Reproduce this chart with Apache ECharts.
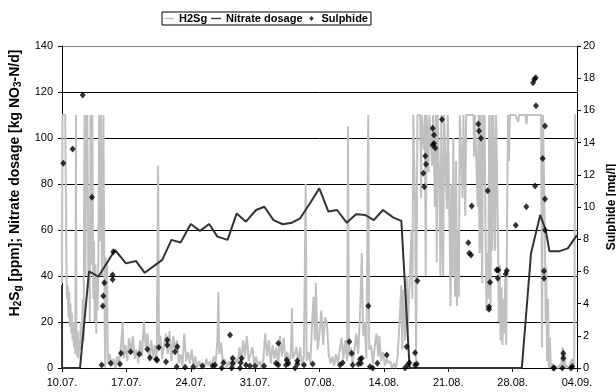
<!DOCTYPE html>
<html>
<head>
<meta charset="utf-8">
<script src="https://cdn.jsdelivr.net/npm/echarts@6/dist/echarts.min.js"></script>
<style>
  html, body { margin: 0; padding: 0; background: #fff; }
  #chart { width: 616px; height: 392px; }
</style>
</head>
<body>
<div id="chart"></div>
<script>
// x values are days counted from 10.07.
const xLabels = ['10.07.', '17.07.', '24.07.', '31.07.', '07.08.', '14.08.', '21.08.', '28.08.', '04.09.']

// H2S gas [ppm]
const h2sData = [
  [0, 37], [0.05, 110], [0.15, 110], [0.25, 110], [0.35, 110], [0.45, 110], [0.5, 37], [0.55, 30], [0.62, 36], [0.7, 22],
  [0.78, 33], [0.85, 18], [0.92, 28], [1.0, 15], [1.08, 24], [1.15, 12], [1.22, 20], [1.3, 9], [1.38, 18], [1.45, 6],
  [1.52, 110], [1.56, 14], [1.65, 5], [1.72, 16], [1.8, 4], [1.88, 12], [1.95, 8], [2.05, 20], [2.15, 10], [2.25, 30],
  [2.35, 12], [2.45, 110], [2.5, 110], [2.55, 40], [2.62, 110], [2.68, 70], [2.75, 110], [2.82, 110], [2.88, 35], [2.95, 60],
  [3.02, 20], [3.1, 110], [3.15, 110], [3.22, 45], [3.3, 110], [3.35, 110], [3.4, 30], [3.48, 55], [3.56, 20], [3.64, 45],
  [3.72, 15], [3.8, 40], [3.88, 25], [3.96, 50], [4.04, 110], [4.1, 110], [4.16, 55], [4.22, 110], [4.28, 110], [4.34, 40],
  [4.42, 65], [4.5, 110], [4.58, 110], [4.64, 20], [4.7, 0], [4.76, 48], [4.84, 25], [4.9, 45], [4.96, 10], [5.0, 2],
  [5.2, 6], [5.4, 1], [5.6, 4], [5.8, 0], [6.0, 5], [6.2, 2], [6.4, 9], [6.6, 20], [6.7, 4], [6.9, 10],
  [7.1, 3], [7.3, 13], [7.5, 6], [7.7, 14], [7.9, 4], [8.1, 8], [8.3, 2], [8.5, 12], [8.7, 5], [8.9, 20],
  [9.1, 9], [9.3, 15], [9.5, 3], [9.7, 12], [9.9, 5], [10.1, 10], [10.3, 2], [10.45, 88], [10.55, 8], [10.7, 14],
  [10.9, 4], [11.1, 10], [11.3, 15], [11.5, 6], [11.7, 16], [11.9, 3], [12.1, 14], [12.3, 8], [12.5, 12], [12.7, 2],
  [12.9, 6], [13.1, 1], [13.3, 15], [13.5, 3], [13.7, 7], [13.9, 2], [14.1, 8], [14.3, 1], [14.5, 5], [14.7, 0],
  [14.9, 3], [15.1, 1], [15.3, 2], [15.5, 0], [15.7, 4], [15.9, 1], [16.1, 3], [16.3, 0], [16.5, 5], [16.7, 2],
  [16.9, 12], [17.0, 33], [17.1, 6], [17.3, 11], [17.5, 2], [17.7, 4], [17.9, 0], [18.1, 3], [18.3, 1], [18.5, 5],
  [18.7, 0], [18.9, 4], [19.1, 2], [19.3, 9], [19.5, 3], [19.7, 12], [19.9, 5], [20.1, 14], [20.3, 3], [20.5, 6],
  [20.7, 9], [20.9, 2], [21.1, 5], [21.3, 1], [21.5, 3], [21.7, 0], [21.9, 4], [22.1, 15], [22.3, 5], [22.5, 12],
  [22.7, 2], [22.9, 10], [23.1, 4], [23.3, 9], [23.5, 1], [23.7, 14], [23.9, 5], [24.1, 13], [24.3, 3], [24.5, 7],
  [24.7, 1], [24.9, 8], [25.0, 26], [25.1, 4], [25.3, 6], [25.5, 9], [25.7, 2], [25.9, 9], [26.1, 1], [26.3, 5],
  [26.5, 80], [26.6, 3], [26.8, 7], [27.0, 2], [27.2, 20], [27.35, 31], [27.5, 12], [27.6, 37], [27.8, 8], [28.0, 15],
  [28.2, 25], [28.4, 10], [28.6, 22], [28.8, 20], [29.0, 6], [29.2, 2], [29.4, 5], [29.6, 1], [29.8, 6], [30.0, 2],
  [30.2, 8], [30.4, 13], [30.6, 4], [30.8, 12], [31.0, 3], [31.1, 105], [31.2, 5], [31.4, 9], [31.6, 2], [31.8, 8],
  [32.0, 15], [32.2, 6], [32.4, 22], [32.6, 50], [32.75, 14], [32.9, 20], [33.1, 4], [33.3, 110], [33.4, 8], [33.6, 10],
  [33.8, 2], [34.0, 9], [34.2, 15], [34.4, 5], [34.5, 14], [34.7, 3], [34.9, 7], [35.1, 1], [35.3, 4], [35.5, 2],
  [35.7, 3], [35.9, 0], [36.1, 2], [36.3, 0], [36.5, 5], [36.7, 20], [36.9, 36], [37.0, 8], [37.1, 34], [37.3, 12],
  [37.5, 40], [37.6, 15], [37.8, 38], [38.0, 60], [38.1, 30], [38.2, 110], [38.3, 110], [38.4, 70], [38.5, 3], [38.55, 40],
  [38.65, 110], [38.75, 110], [38.85, 110], [38.95, 110], [39.05, 74], [39.1, 110], [39.25, 110], [39.35, 95], [39.45, 110], [39.55, 40],
  [39.65, 110], [39.75, 110], [39.85, 85], [39.95, 110], [40.05, 110], [40.15, 110], [40.25, 88], [40.35, 110], [40.45, 110], [40.55, 70],
  [40.65, 110], [40.75, 46], [40.85, 110], [40.95, 110], [41.05, 75], [41.15, 40], [41.25, 110], [41.35, 60], [41.45, 40], [41.55, 110],
  [41.65, 110], [41.75, 110], [41.85, 69], [41.95, 110], [42.05, 110], [42.15, 60], [42.25, 27], [42.35, 80], [42.45, 40], [42.55, 100],
  [42.65, 50], [42.75, 31], [42.85, 90], [42.95, 27], [43.05, 60], [43.15, 31], [43.25, 110], [43.35, 110], [43.45, 110], [43.55, 74],
  [43.65, 110], [43.75, 110], [43.85, 66], [43.95, 110], [44.15, 110], [44.35, 110], [44.55, 110], [44.75, 110], [44.8, 92], [44.9, 110],
  [45.1, 110], [45.2, 70], [45.3, 110], [45.4, 50], [45.5, 110], [45.6, 60], [45.7, 37], [45.75, 110], [45.85, 80], [45.95, 110],
  [46.05, 60], [46.15, 25], [46.25, 50], [46.35, 30], [46.45, 110], [46.55, 45], [46.6, 25], [46.7, 110], [46.8, 51], [46.9, 110],
  [47.0, 110], [47.1, 51], [47.2, 110], [47.3, 110], [47.4, 60], [47.5, 20], [47.6, 45], [47.7, 12], [47.8, 35], [47.9, 10],
  [48.0, 30], [48.1, 15], [48.2, 40], [48.3, 10], [48.4, 65], [48.5, 110], [48.6, 90], [48.7, 110], [49.3, 110], [49.6, 107],
  [49.7, 110], [50.4, 110], [50.5, 106], [50.6, 110], [51.2, 110], [51.8, 110], [52.1, 110], [52.2, 9], [52.3, 110], [52.4, 110],
  [52.5, 60], [52.6, 20], [52.65, 44], [52.75, 3], [52.85, 30], [52.95, 0], [53.05, 13], [53.15, 0], [53.3, 2], [53.5, 0],
  [53.7, 1], [53.9, 0], [54.1, 0], [54.3, 2], [54.45, 9], [54.55, 0], [54.65, 6], [54.75, 0], [54.9, 1], [55.1, 0],
  [55.3, 0], [55.45, 4], [55.55, 0], [55.7, 2], [55.8, 110], [55.9, 110]
]

// nitrate dosage [kg NO3-N/d]
const nitrateData = [
  [0, 36], [0.01, 0], [1.96, 0], [2.94, 42], [3.95, 39.7], [5.76, 51.3], [6.96, 45.5], [8.05, 46.5], [9.0, 41.4], [10.9, 47],
  [11.9, 55.7], [12.9, 54.6], [14.0, 62.6], [15.0, 59.6], [16.0, 62.6], [16.9, 57.1], [18.0, 55.7], [19.0, 67.2], [20.0, 63.6], [21.1, 68.7],
  [22.0, 70.1], [23.0, 64.3], [24.0, 62.5], [25.0, 63.2], [25.9, 65.1], [26.97, 71.6], [27.98, 78.1], [28.97, 68.0], [29.9, 68.7], [30.96, 63.2],
  [31.97, 66.8], [33.0, 66.5], [33.9, 64.3], [34.9, 68.7], [36.0, 65.5], [36.9, 64.0], [37.8, 0], [50.0, 0], [51.0, 49.9], [52.0, 66.5],
  [52.6, 60], [53.0, 50.8], [54.1, 50.8], [55.0, 52], [56, 57.8]
]

// sulphide [mg/l], right axis
const sulphideData = [
  [0.14, 12.71], [1.16, 13.6], [2.25, 16.96], [3.26, 10.6], [4.32, 0.19], [4.43, 3.85], [4.49, 4.47], [4.6, 5.3], [5.3, 0.29], [5.5, 5.78],
  [5.5, 5.5], [5.58, 7.22], [6.3, 0.25], [6.42, 0.91], [7.47, 1.01], [8.41, 0.87], [9.28, 1.16], [9.57, 0.64], [10.22, 0.54], [10.36, 0.5],
  [10.52, 1.28], [11.31, 0.39], [11.45, 1.74], [11.45, 1.43], [12.29, 1.01], [12.54, 1.32], [12.47, 0.08], [13.38, 0.04], [14.28, 0.08], [15.26, 0.12],
  [16.39, 0.12], [16.64, 0.19], [17.37, 0], [17.54, 0.33], [18.27, 2.05], [18.45, 0], [18.56, 0.29], [18.56, 0.6], [19.36, 0], [19.43, 0.33],
  [19.54, 0.6], [20.01, 0.19], [20.44, 0.12], [20.99, 0.12], [21.97, 0.12], [23.27, 0.29], [23.52, 0.19], [23.52, 1.53], [24.36, 0.19], [24.43, 0.5],
  [24.61, 0.29], [25.34, 0], [25.59, 0.45], [25.59, 0.25], [26.32, 0.19], [27.26, 0.25], [30.23, 0.19], [30.52, 0.33], [31.24, 1.63], [31.5, 0.91],
  [31.61, 0.19], [32.22, 0.25], [32.41, 0.54], [32.51, 0.29], [32.59, 0.6], [33.31, 3.85], [33.49, 0.08], [33.79, 0], [34.29, 0.29], [35.31, 0.81],
  [37.3, 0], [37.48, 1.32], [37.59, 0.19], [37.77, 0.33], [38.39, 0.95], [38.39, 0.19], [38.57, 0.25], [38.64, 5.42], [39.29, 12.09], [39.4, 11.26],
  [39.51, 13.17], [39.58, 12.65], [40.31, 14.89], [40.45, 14.47], [40.31, 13.85], [40.45, 13.95], [40.59, 13.66], [41.32, 15.44], [44.18, 7.78], [44.29, 7.12],
  [44.48, 7.02], [44.55, 10.06], [45.27, 15.15], [45.35, 14.72], [45.56, 14.27], [46.29, 11.01], [46.43, 3.81], [46.43, 3.65], [46.54, 5.32], [47.27, 6.09],
  [47.44, 6.09], [47.38, 5.57], [48.25, 5.84], [48.36, 6.04], [49.34, 8.86], [50.49, 10.02], [51.22, 17.72], [51.36, 17.93], [51.51, 18.03], [51.54, 16.29],
  [51.44, 11.3], [52.27, 13.02], [52.52, 15.03], [52.52, 10.5], [52.52, 8.57], [52.41, 6.02], [52.41, 5.57], [53.43, 0], [53.5, 0], [54.4, 0],
  [54.51, 0.91], [54.51, 0.6], [55.35, 0], [55.49, 0.1]
]

const font = "'Liberation Sans', Arial, sans-serif"
// legend icons: a thin bar / a small diamond inside a fixed 12x8 box
const lineIcon = 'path://M0,0M12,8M0,3.2L12,3.2L12,4.8L0,4.8Z'
const diamondIcon = 'path://M0,0M12,8M6,1L8.6,4L6,7L3.4,4Z'

const chart = echarts.init(document.getElementById('chart'), null, { renderer: 'canvas' })

chart.setOption({
  animation: false,
  backgroundColor: '#fff',
  textStyle: { fontFamily: font },
  legend: {
    left: 162,
    top: 12,
    padding: [1, 3, 1, 2],
    itemGap: 4,
    itemWidth: 10,
    itemHeight: 8,
    borderColor: '#000',
    borderWidth: 1,
    textStyle: { fontFamily: font, fontSize: 11, fontWeight: 'bold', color: '#000' },
    data: [
      { name: 'H2Sg', icon: lineIcon },
      { name: 'Nitrate dosage', icon: lineIcon },
      { name: 'Sulphide', icon: diamondIcon },
    ],
  },
  grid: { left: 62, right: 39, top: 46, bottom: 24, outerBoundsMode: 'none' },
  xAxis: {
    type: 'value',
    min: 0,
    max: 56,
    interval: 7,
    axisLine: { lineStyle: { color: '#000', width: 1 } },
    axisTick: { show: true, length: 4, lineStyle: { color: '#000' } },
    splitLine: { show: false },
    axisLabel: {
      color: '#000',
      fontSize: 11,
      fontFamily: font,
      margin: 9,
      formatter: (value) => xLabels[Math.round(value / 7)] || '',
    },
  },
  yAxis: [
    {
      type: 'value',
      min: 0,
      max: 140,
      interval: 20,
      name: 'H{sub|2}S{sub|g} [ppm]; Nitrate dosage [kg NO{sub|3}-N/d]',
      nameLocation: 'middle',
      nameGap: 32,
      nameTextStyle: {
        fontFamily: font,
        fontSize: 14,
        fontWeight: 'bold',
        color: '#000',
        lineHeight: 17,
        padding: [0, 0, 0, 48],
        rich: {
          sub: { fontFamily: font, fontSize: 10, fontWeight: 'bold', color: '#000', verticalAlign: 'bottom', lineHeight: 17 },
        },
      },
      axisLine: { show: true, lineStyle: { color: '#000' } },
      axisTick: { show: true, length: 4, lineStyle: { color: '#000' } },
      axisLabel: { color: '#000', fontSize: 11, fontFamily: font, margin: 9 },
      splitLine: {
        show: true,
        lineStyle: { color: ['#000', '#000', '#000', '#000', '#000', '#000', '#000', '#808080'], width: 1 },
      },
    },
    {
      type: 'value',
      min: 0,
      max: 20,
      interval: 2,
      position: 'right',
      name: 'Sulphide [mg/l]',
      nameLocation: 'middle',
      nameGap: 29,
      nameRotate: 90,
      nameTextStyle: { fontFamily: font, fontSize: 12, fontWeight: 'bold', color: '#000' },
      axisLine: { show: true, lineStyle: { color: '#000' } },
      axisTick: { show: true, length: 4, lineStyle: { color: '#000' } },
      axisLabel: { color: '#000', fontSize: 11, fontFamily: font, margin: 6 },
      splitLine: { show: false },
    },
  ],
  series: [
    {
      name: 'H2Sg',
      type: 'line',
      data: h2sData,
      symbol: 'none',
      lineStyle: { color: '#c0c0c0', width: 2 },
      itemStyle: { color: '#c0c0c0' },
      z: 1,
    },
    {
      name: 'Nitrate dosage',
      type: 'line',
      data: nitrateData,
      symbol: 'none',
      lineStyle: { color: '#333', width: 2 },
      itemStyle: { color: '#333' },
      z: 2,
    },
    {
      name: 'Sulphide',
      type: 'scatter',
      yAxisIndex: 1,
      data: sulphideData,
      symbol: 'diamond',
      symbolSize: [6, 7],
      itemStyle: { color: '#000' },
      z: 3,
    },
  ],
})
</script>
</body>
</html>
